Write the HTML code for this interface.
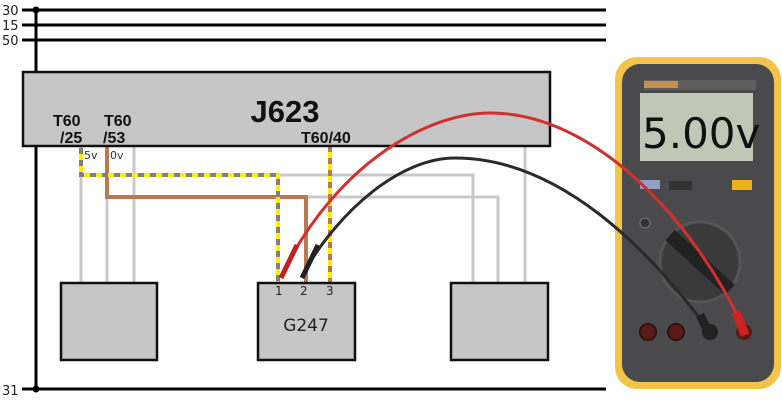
<!DOCTYPE html>
<html><head><meta charset="utf-8"><style>
html,body{margin:0;padding:0;background:#fff;}
svg{display:block;font-family:"Liberation Sans","DejaVu Sans",sans-serif;}
</style></head><body>
<svg width="782" height="400" viewBox="0 0 782 400" xmlns="http://www.w3.org/2000/svg">
<g stroke="#000" stroke-width="3">
<line x1="22" y1="10" x2="606" y2="10"/>
<line x1="22" y1="25" x2="606" y2="25"/>
<line x1="22" y1="40" x2="606" y2="40"/>
<line x1="22" y1="389" x2="606" y2="389"/>
<line x1="36" y1="10" x2="36" y2="389"/>
</g>
<circle cx="36" cy="10" r="3.5"/><circle cx="36" cy="389" r="3.5"/>
<g font-family="DejaVu Sans,sans-serif" font-size="13" fill="#222">
<text x="2" y="15">30</text><text x="2" y="30">15</text><text x="2" y="45">50</text><text x="2" y="395">31</text>
</g>
<g stroke="#c8c8c8" stroke-width="3" fill="none">
<line x1="81" y1="146" x2="81" y2="283"/>
<line x1="107" y1="146" x2="107" y2="283"/>
<line x1="134" y1="146" x2="134" y2="283"/>
<polyline points="278,175 473,175 473,283"/>
<polyline points="306,197 498,197 498,283"/>
<line x1="525" y1="146" x2="525" y2="283"/>
</g>
<polyline points="107,146 107,197 306,197 306,283" stroke="#b87a55" stroke-width="4" fill="none"/>
<polyline points="81,148 81,175 278,175 278,283" stroke="#ffee00" stroke-width="4" fill="none"/>
<polyline points="81,148 81,175 278,175 278,283" stroke="#808080" stroke-width="4" fill="none" stroke-dasharray="6,6"/>
<line x1="330" y1="146" x2="330" y2="283" stroke="#ffee00" stroke-width="4"/>
<line x1="330" y1="146" x2="330" y2="283" stroke="#b87a55" stroke-width="4" stroke-dasharray="6,6"/>
<rect x="23" y="72" width="527" height="74" fill="#c6c6c6" stroke="#111" stroke-width="2.5"/>
<g font-weight="bold" fill="#111">
<text x="285" y="122" font-size="31" text-anchor="middle">J623</text>
<text x="53" y="126" font-size="16">T60</text><text x="60" y="143" font-size="16">/25</text>
<text x="104" y="126" font-size="16">T60</text><text x="103" y="143" font-size="16">/53</text>
<text x="301" y="143" font-size="16">T60/40</text>
</g>
<g font-family="DejaVu Sans,sans-serif" font-size="11" fill="#333">
<text x="84" y="159">5v</text><text x="110" y="159">0v</text>
</g>
<g fill="#c6c6c6" stroke="#111" stroke-width="2.5">
<rect x="61" y="283" width="96" height="77"/>
<rect x="258" y="283" width="97" height="77"/>
<rect x="451" y="283" width="97" height="77"/>
</g>
<g font-family="DejaVu Sans,sans-serif" fill="#222">
<text x="275" y="295" font-size="12">1</text><text x="300" y="295" font-size="12">2</text><text x="326" y="295" font-size="12">3</text>
<text x="306" y="331" font-size="17" text-anchor="middle">G247</text>
</g>
<rect x="615" y="57" width="166" height="332" rx="22" fill="#f2c54a"/>
<rect x="622" y="64" width="152" height="318" rx="18" fill="#4a4a4c"/>
<rect x="644" y="80" width="112" height="10" fill="#5e5e5e"/>
<rect x="644" y="81" width="34" height="7" fill="#c09050"/>
<rect x="640" y="93" width="113" height="68" fill="#c2c6b6"/>
<text x="642" y="148" font-size="42" fill="#111" font-family="DejaVu Sans,sans-serif">5.00v</text>
<rect x="640" y="180" width="20" height="9" fill="#8ea0c8"/>
<rect x="669" y="181" width="23" height="9" fill="#333"/>
<rect x="732" y="180" width="20" height="10" fill="#f0b020"/>
<circle cx="700" cy="262" r="40" fill="#3a3a3a" stroke="#555" stroke-width="3"/>
<line x1="670" y1="235" x2="730" y2="290" stroke="#222" stroke-width="14"/>
<circle cx="645" cy="223" r="5" fill="#333" stroke="#777"/>
<circle cx="648" cy="332" r="8" fill="#5a1a1a" stroke="#301010" stroke-width="2"/>
<circle cx="676" cy="332" r="8" fill="#5a1a1a" stroke="#301010" stroke-width="2"/>
<circle cx="710" cy="332" r="8" fill="#222"/>
<circle cx="744" cy="332" r="8" fill="#5a1a1a"/>
<path d="M283,272 C340,160 430,113 490,113 C600,113 700,230 745,332" stroke="#d03030" stroke-width="3" fill="none"/>
<path d="M304,272 C340,210 400,158 455,158 C560,158 650,250 710,332" stroke="#2a2a2a" stroke-width="3" fill="none"/>
<line x1="281" y1="278" x2="297" y2="245" stroke="#c02020" stroke-width="5"/>
<line x1="302" y1="278" x2="318" y2="245" stroke="#222" stroke-width="5"/>
<line x1="736" y1="312" x2="745" y2="335" stroke="#d02020" stroke-width="9"/>
<line x1="700" y1="315" x2="710" y2="335" stroke="#222" stroke-width="9"/>
</svg>
</body></html>
